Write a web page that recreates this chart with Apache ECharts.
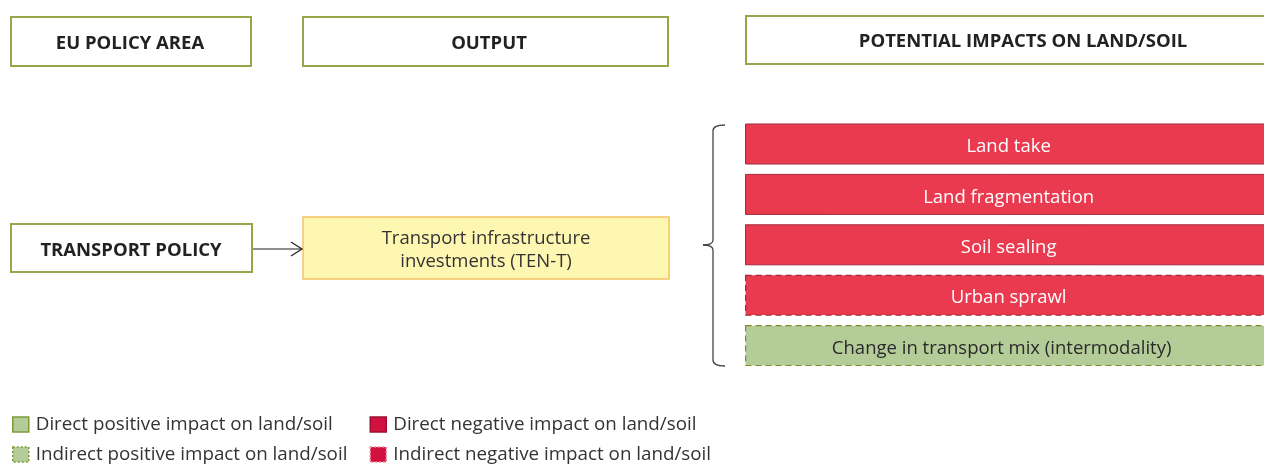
<!DOCTYPE html>
<html><head><meta charset="utf-8">
<script src="https://cdn.jsdelivr.net/npm/echarts@6/dist/echarts.min.js"></script>
<style>html,body{margin:0;padding:0;background:#fff}#c{width:1264px;height:464px}</style>
</head><body><div id="c"></div>
<script>
// ---- content ----
const headers = ['EU POLICY AREA', 'OUTPUT', 'POTENTIAL IMPACTS ON LAND/SOIL'];
const policyText = 'TRANSPORT POLICY';
const outputText = 'Transport infrastructure\ninvestments (TEN-T)';
const impacts = ['Land take', 'Land fragmentation', 'Soil sealing', 'Urban sprawl', 'Change in transport mix (intermodality)'];
const impactKinds = ['directNeg', 'directNeg', 'directNeg', 'indirectNeg', 'indirectPos'];
const legendLeft = ['Direct positive impact on land/soil', 'Indirect positive impact on land/soil'];
const legendRight = ['Direct negative impact on land/soil', 'Indirect negative impact on land/soil'];
const legendKindsLeft = ['directPos', 'indirectPos'];
const legendKindsRight = ['directNeg', 'indirectNeg'];

// ---- styles ----
const FONT = '"Open Sans", "Noto Sans", sans-serif';
const FS = 18.5;
const boxStyles = {
  directNeg: { color: '#e93a50', borderColor: '#a3283c', borderWidth: 1, borderType: 'solid', text: '#ffffff', offset: [1.5, 3] },
  indirectNeg: { color: '#e93a50', borderColor: '#a3283c', borderWidth: 1.2, borderType: [6, 4], text: '#ffffff', offset: [1.5, 3] },
  indirectPos: { color: '#b4cd98', borderColor: '#7f8a2e', borderWidth: 1.2, borderType: [6, 4], text: '#2a2a2a', offset: [-5.5, 3] }
};
const legendStyles = {
  directPos: { color: '#b4cd98', borderColor: '#7f9a3a', borderWidth: 1.5, borderType: 'solid' },
  indirectPos: { color: '#b4cd98', borderColor: '#7f9a3a', borderWidth: 1.5, borderType: [2, 2] },
  directNeg: { color: '#d31140', borderColor: '#9b1030', borderWidth: 1.5, borderType: 'solid' },
  indirectNeg: { color: '#d31140', borderColor: '#ee8a9a', borderWidth: 1.5, borderType: [2, 2] }
};

const chart = echarts.init(document.getElementById('c'), null, { renderer: 'canvas' });

const green = '#94a84a';
function box(x, y, w, h, fill, stroke, lw) {
  return { type: 'rect', shape: { x, y, width: w, height: h }, style: { fill, stroke, lineWidth: lw } };
}
function txt(cx, cy, text, size, weight, color) {
  return { type: 'text', x: cx, y: cy, style: { text, font: weight + ' ' + size + 'px ' + FONT, fill: color, align: 'center', verticalAlign: 'middle', lineHeight: 23 } };
}

const headerBoxes = [[11, 17, 240, 49], [303, 17, 365, 49], [746, 16, 560, 48]];
const headerCenters = [130, 489, 1023];
const graphics = [];
headers.forEach((h, i) => {
  const b = headerBoxes[i];
  graphics.push(box(b[0], b[1], b[2], b[3], '#fff', green, 2));
  graphics.push(txt(headerCenters[i], b[1] + b[3] / 2 + 2, h, FS, 'bold', '#222'));
});
graphics.push(box(11, 224, 241, 48, '#fff', green, 2));
graphics.push(txt(131, 251, policyText, FS, 'bold', '#222'));
graphics.push(box(303, 217, 366, 62, '#fef7b2', '#f6c262', 1.5));
graphics.push(txt(486, 250.5, outputText, FS, 'normal', '#333'));
// arrow
graphics.push({ type: 'line', shape: { x1: 253, y1: 249, x2: 302, y2: 249 }, style: { stroke: '#222', lineWidth: 1.2 } });
graphics.push({ type: 'polyline', shape: { points: [[291, 242], [302, 249], [291, 256]] }, style: { stroke: '#222', lineWidth: 1.2, fill: null } });
// bracket
const bs = { stroke: '#444', lineWidth: 1.3, fill: null };
graphics.push({ type: 'bezierCurve', shape: { x1: 725, y1: 125, x2: 713, y2: 131, cpx1: 713, cpy1: 125 }, style: bs });
graphics.push({ type: 'line', shape: { x1: 713, y1: 131, x2: 713, y2: 240 }, style: bs });
graphics.push({ type: 'bezierCurve', shape: { x1: 713, y1: 240, x2: 703, y2: 245, cpx1: 713, cpy1: 245 }, style: bs });
graphics.push({ type: 'bezierCurve', shape: { x1: 703, y1: 245, x2: 713, y2: 250, cpx1: 713, cpy1: 245 }, style: bs });
graphics.push({ type: 'line', shape: { x1: 713, y1: 250, x2: 713, y2: 360 }, style: bs });
graphics.push({ type: 'bezierCurve', shape: { x1: 713, y1: 360, x2: 725, y2: 366, cpx1: 713, cpy1: 366 }, style: bs });

function legendData(names, kinds) {
  return names.map((n, i) => ({ name: n, icon: 'rect', itemStyle: legendStyles[kinds[i]] }));
}
const legendSeries = legendLeft.concat(legendRight).map((n, i) => {
  const k = legendKindsLeft.concat(legendKindsRight)[i];
  return { type: 'bar', name: n, data: [], itemStyle: legendStyles[k] };
});

const legendCommon = {
  orient: 'vertical', itemWidth: 16, itemHeight: 15, itemGap: 10, selectedMode: false,
  padding: 0, height: 62,
  textStyle: { fontFamily: FONT, fontSize: 18.8, color: '#333', lineHeight: 20, padding: [0, 0, 0, 2] }
};

chart.setOption({
  animation: false,
  backgroundColor: '#fff',
  grid: { left: 745, right: 0, top: 123, height: 252, containLabel: false },
  xAxis: { type: 'value', min: 0, max: 0.99, show: false },
  yAxis: { type: 'category', data: impacts, inverse: true, show: false },
  legend: [
    Object.assign({ left: 12, top: 414.5, data: legendData(legendLeft, legendKindsLeft) }, legendCommon),
    Object.assign({ left: 369.5, top: 414.5, data: legendData(legendRight, legendKindsRight) }, legendCommon)
  ],
  graphic: graphics,
  series: [{
    type: 'bar',
    name: 'impacts',
    barWidth: 41,
    silent: true,
    clip: false,
    data: impacts.map((n, i) => {
      const s = boxStyles[impactKinds[i]];
      return {
        value: 1,
        itemStyle: { color: s.color, borderColor: s.borderColor, borderWidth: s.borderWidth, borderType: s.borderType },
        label: { color: s.text, offset: s.offset }
      };
    }),
    label: {
      show: true, position: 'inside', fontFamily: FONT, fontSize: FS,
      formatter: p => impacts[p.dataIndex]
    }
  }].concat(legendSeries)
});
</script></body></html>
